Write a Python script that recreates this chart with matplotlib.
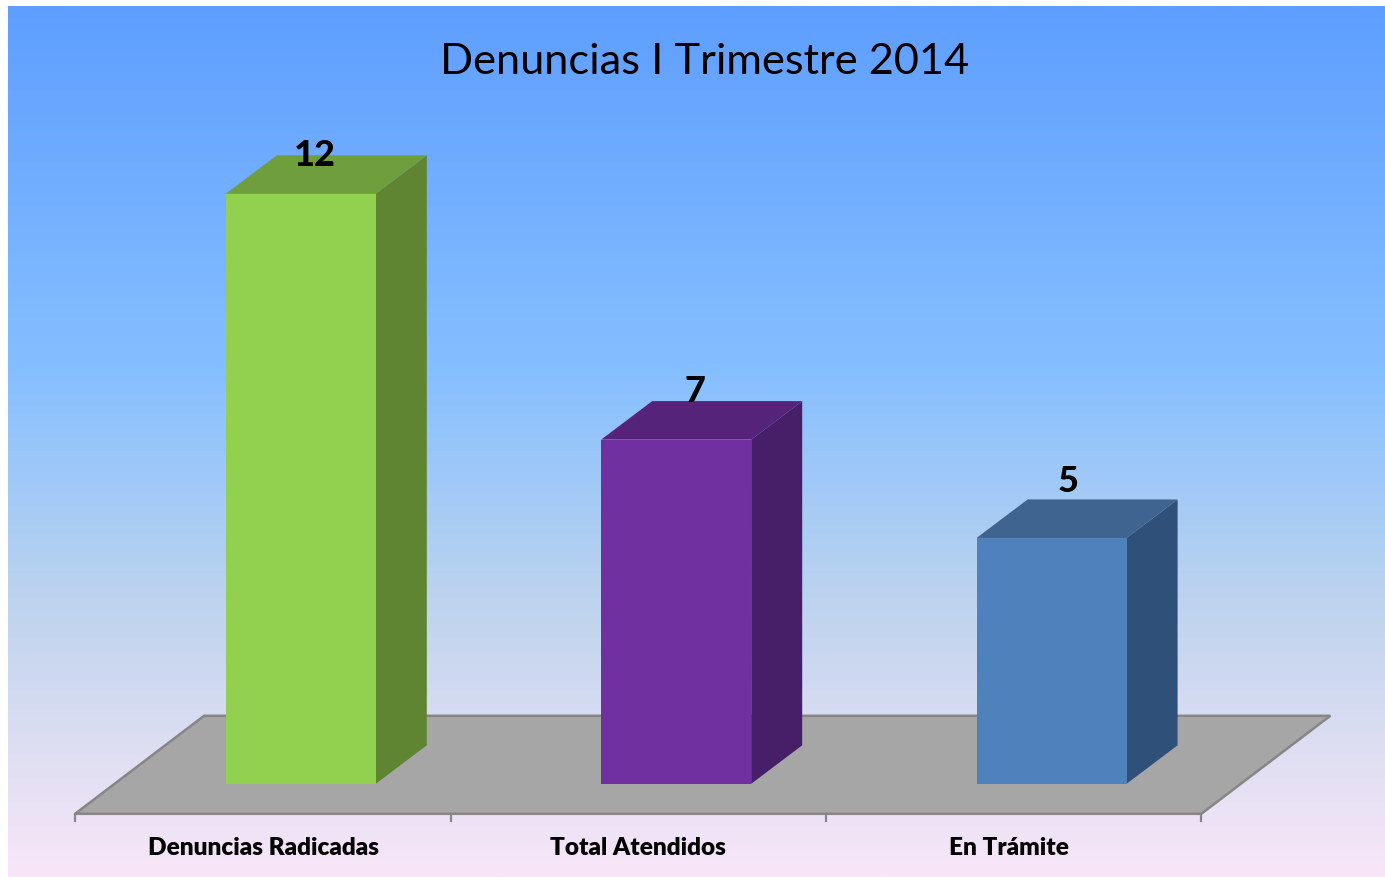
import numpy as np
import matplotlib.pyplot as plt
from matplotlib.colors import LinearSegmentedColormap
from matplotlib.patches import Polygon, Rectangle

W = 1385
H = 878

categories = ['Denuncias Radicadas', 'Total Atendidos', 'En Trámite']
values = [12, 7, 5]
front_colors = ['#92D050', '#7030A0', '#4F81BD']
side_colors = ['#5F8533', '#471E68', '#2F5078']
top_colors = ['#6E9F3C', '#55247A', '#3E648F']
title = 'Denuncias I Trimestre 2014'

# layout in pixels of the reference
CAT_STEP = 375.4
CAT_0 = 262.8
UNIT = 49.17
BASE_Y = 784.8
BAR_W = 150 / CAT_STEP
BAR_SHIFT = 38 / CAT_STEP
DX = 51 / CAT_STEP
DY = 38.5 / UNIT
FLOOR_DX = 129 / CAT_STEP
FLOOR_TOP = 98 / UNIT
FLOOR_LOW = -30 / UNIT

# label centres, pixels
value_label_x = [314.5, 694.5, 1068.5]
value_label_y = [156, 392, 482]
cat_label_x = [263, 638, 1009]
CAT_LABEL_Y = 848.5


def px(x):
    return (x - CAT_0) / CAT_STEP


def py(y):
    return (BASE_Y - y) / UNIT


plt.rcParams['font.family'] = ['Lato', 'DejaVu Sans']

fig = plt.figure(figsize=(W / 100, H / 100), dpi=100, facecolor='white')

# gradient background
bg = fig.add_axes([8 / W, 0, 1 - 8 / W, 1 - 6.6 / H])
cmap = LinearSegmentedColormap.from_list('bg', [
    (0.0, '#5E9EFF'), (0.42, '#86BFFF'), (0.68, '#BCD3EE'), (0.85, '#DDDEF2'), (1.0, '#F8E6F8')])
bg.imshow(np.linspace(0, 1, 512).reshape(-1, 1), cmap=cmap, aspect='auto')
bg.axis('off')

ax = fig.add_axes([0, 0, 1, 1])
ax.patch.set_alpha(0)
ax.set_xlim(px(0), px(W))
ax.set_ylim(py(H), py(0))
ax.axis('off')

# floor
x0 = -0.5
x1 = len(values) - 0.5
ax.add_patch(Polygon([(x0, FLOOR_LOW), (x0 + FLOOR_DX, FLOOR_LOW + FLOOR_TOP),
                      (x1 + FLOOR_DX, FLOOR_LOW + FLOOR_TOP), (x1, FLOOR_LOW)],
                     closed=True, fc='#A6A6A6', ec='#868686', lw=1.8, joinstyle='miter'))

# category ticks
for i in range(len(values) + 1):
    ax.plot([i - 0.5, i - 0.5], [FLOOR_LOW, FLOOR_LOW - 7 / UNIT], color='#868686', lw=1.6)

# bars
for i, v in enumerate(values):
    left = i + BAR_SHIFT - BAR_W / 2
    right = left + BAR_W
    ax.add_patch(Polygon([(right, 0), (right + DX, DY), (right + DX, v + DY), (right, v)],
                         closed=True, fc=side_colors[i], ec='none', zorder=3))
    ax.add_patch(Polygon([(left, v), (left + DX, v + DY), (right + DX, v + DY), (right, v)],
                         closed=True, fc=top_colors[i], ec='none', zorder=3))
    ax.add_patch(Rectangle((left, 0), BAR_W, v, fc=front_colors[i], ec='none', zorder=4))
    ax.text(px(value_label_x[i]), py(value_label_y[i]), str(v), ha='center', va='center',
            fontsize=26, fontweight='black', color='black', zorder=5)
    ax.text(px(cat_label_x[i]), py(CAT_LABEL_Y), categories[i], ha='center', va='center',
            fontsize=17.6, fontweight='heavy', color='black', zorder=5)

ax.text(px(704.5), py(61.5), title, ha='center', va='center', fontsize=31.2, color='black')

fig.savefig('out.png', dpi=100)
